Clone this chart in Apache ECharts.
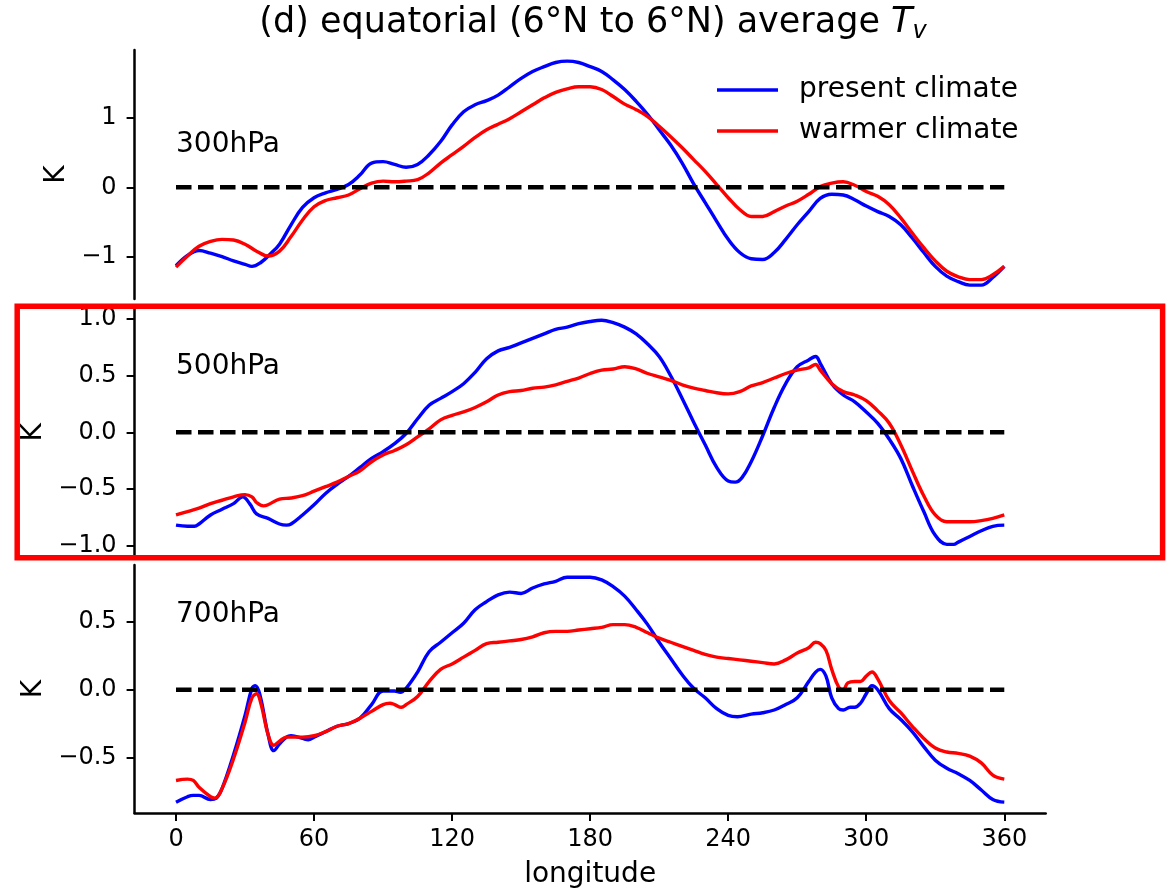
<!DOCTYPE html>
<html>
<head>
<meta charset="utf-8">
<title>equatorial average Tv</title>
<script src="https://cdn.jsdelivr.net/npm/echarts@6/dist/echarts.min.js"></script>
<style>
  html, body { margin: 0; padding: 0; background: #fff; }
  #chartMain { width: 1174px; height: 890px; }
</style>
</head>
<body>
<div id="chartMain"></div>
<script>
// longitude, anomaly (K)
const present300 = [[0,-1.13],[5,-0.98],[10,-0.91],[15,-0.95],[20,-1.00],[25,-1.06],[30,-1.11],[33,-1.14],[37,-1.08],[41,-0.96],[45,-0.82],[50,-0.54],[55,-0.29],[60,-0.15],[65,-0.08],[70,-0.03],[75,0.04],[80,0.18],[85,0.35],[90,0.37],[95,0.33],[100,0.29],[105,0.33],[110,0.47],[115,0.66],[120,0.90],[125,1.09],[130,1.19],[135,1.25],[140,1.33],[145,1.45],[150,1.57],[155,1.67],[160,1.74],[165,1.80],[170,1.82],[175,1.80],[180,1.74],[185,1.67],[190,1.55],[195,1.41],[200,1.24],[205,1.05],[210,0.83],[215,0.61],[220,0.35],[225,0.05],[230,-0.22],[235,-0.49],[240,-0.75],[245,-0.94],[250,-1.03],[255,-1.04],[260,-0.94],[265,-0.75],[270,-0.54],[275,-0.35],[280,-0.16],[285,-0.10],[290,-0.11],[295,-0.18],[300,-0.27],[305,-0.35],[310,-0.42],[315,-0.54],[320,-0.73],[325,-0.94],[330,-1.14],[335,-1.28],[340,-1.36],[345,-1.41],[350,-1.41],[355,-1.30],[360,-1.14]];
const warmer300 = [[0,-1.15],[5,-0.99],[10,-0.85],[15,-0.78],[20,-0.75],[25,-0.76],[30,-0.82],[35,-0.92],[40,-0.99],[45,-0.92],[50,-0.71],[55,-0.47],[60,-0.28],[65,-0.19],[70,-0.15],[75,-0.11],[80,-0.02],[85,0.06],[90,0.09],[95,0.08],[100,0.09],[105,0.11],[110,0.21],[115,0.35],[120,0.47],[125,0.59],[130,0.72],[135,0.83],[140,0.91],[145,0.99],[150,1.09],[155,1.19],[160,1.29],[165,1.37],[170,1.42],[175,1.45],[180,1.45],[185,1.41],[190,1.31],[195,1.20],[200,1.12],[205,1.02],[210,0.88],[215,0.73],[220,0.57],[225,0.40],[230,0.23],[235,0.04],[240,-0.15],[245,-0.32],[250,-0.42],[255,-0.42],[260,-0.35],[265,-0.27],[270,-0.20],[275,-0.10],[280,0.01],[285,0.06],[290,0.08],[295,0.03],[300,-0.06],[305,-0.13],[310,-0.25],[315,-0.44],[320,-0.66],[325,-0.87],[330,-1.06],[335,-1.21],[340,-1.29],[345,-1.33],[350,-1.33],[355,-1.26],[360,-1.14]];

const present500 = [[0,-0.82],[5,-0.83],[8,-0.83],[10,-0.81],[15,-0.73],[20,-0.68],[25,-0.63],[29,-0.57],[32,-0.63],[35,-0.72],[40,-0.76],[45,-0.81],[48,-0.82],[50,-0.81],[55,-0.73],[60,-0.64],[65,-0.54],[70,-0.46],[75,-0.39],[80,-0.31],[85,-0.23],[90,-0.17],[95,-0.10],[100,-0.01],[105,0.12],[110,0.24],[115,0.30],[120,0.36],[125,0.43],[130,0.53],[135,0.65],[140,0.72],[145,0.75],[150,0.79],[155,0.83],[160,0.87],[165,0.91],[170,0.93],[175,0.96],[180,0.98],[185,0.99],[190,0.97],[195,0.93],[200,0.87],[205,0.78],[210,0.67],[215,0.50],[220,0.30],[225,0.09],[230,-0.11],[235,-0.31],[240,-0.43],[243,-0.44],[246,-0.40],[250,-0.26],[255,-0.03],[260,0.22],[265,0.43],[270,0.58],[275,0.64],[278,0.67],[280,0.61],[285,0.43],[290,0.33],[295,0.27],[300,0.18],[305,0.08],[310,-0.06],[315,-0.23],[320,-0.47],[325,-0.70],[330,-0.91],[335,-0.99],[338,-0.99],[340,-0.97],[345,-0.92],[350,-0.87],[355,-0.83],[360,-0.82]];
const warmer500 = [[0,-0.73],[5,-0.70],[10,-0.67],[15,-0.63],[20,-0.60],[25,-0.57],[30,-0.55],[33,-0.57],[35,-0.62],[38,-0.65],[40,-0.64],[45,-0.59],[50,-0.58],[55,-0.56],[60,-0.52],[65,-0.48],[70,-0.44],[75,-0.39],[80,-0.34],[85,-0.26],[90,-0.20],[95,-0.16],[100,-0.11],[105,-0.04],[110,0.03],[115,0.11],[120,0.15],[125,0.18],[130,0.22],[135,0.27],[140,0.33],[145,0.36],[150,0.37],[155,0.39],[160,0.40],[165,0.42],[170,0.45],[175,0.48],[180,0.52],[185,0.55],[190,0.56],[195,0.58],[200,0.56],[205,0.52],[210,0.49],[215,0.46],[220,0.42],[225,0.39],[230,0.37],[235,0.35],[240,0.34],[245,0.36],[250,0.41],[255,0.44],[260,0.48],[265,0.52],[270,0.55],[275,0.57],[278,0.60],[280,0.55],[285,0.43],[290,0.36],[295,0.33],[300,0.28],[305,0.19],[310,0.08],[315,-0.11],[320,-0.34],[325,-0.56],[330,-0.73],[335,-0.79],[340,-0.79],[345,-0.79],[350,-0.78],[355,-0.76],[360,-0.73]];

const present700 = [[0,-0.83],[5,-0.79],[7.5,-0.78],[10,-0.78],[15,-0.81],[17.5,-0.80],[20,-0.73],[25,-0.48],[30,-0.19],[33,0.01],[34.5,0.03],[36.5,-0.04],[40,-0.33],[42.5,-0.45],[45,-0.40],[48,-0.35],[50,-0.34],[55,-0.36],[57.5,-0.37],[60,-0.35],[65,-0.31],[70,-0.27],[75,-0.25],[80,-0.21],[85,-0.11],[90,-0.01],[95,-0.01],[97.5,-0.02],[100,0.01],[105,0.13],[110,0.28],[115,0.35],[120,0.42],[125,0.49],[130,0.59],[135,0.65],[140,0.70],[145,0.72],[150,0.71],[155,0.75],[160,0.78],[165,0.80],[170,0.83],[175,0.83],[180,0.83],[185,0.81],[190,0.76],[195,0.69],[200,0.59],[205,0.48],[210,0.35],[215,0.23],[220,0.11],[225,0.01],[230,-0.06],[235,-0.14],[240,-0.19],[244,-0.20],[250,-0.18],[255,-0.17],[260,-0.15],[265,-0.11],[270,-0.06],[275,0.06],[278,0.13],[280,0.15],[282.5,0.10],[285,-0.06],[288,-0.14],[290,-0.15],[293,-0.13],[295,-0.13],[297.5,-0.10],[300,-0.03],[302.5,0.03],[305,0.00],[310,-0.14],[315,-0.22],[320,-0.31],[325,-0.42],[330,-0.52],[335,-0.58],[340,-0.62],[345,-0.67],[350,-0.74],[355,-0.81],[360,-0.83]];
const warmer700 = [[0,-0.67],[5,-0.66],[7.5,-0.67],[10,-0.72],[15,-0.79],[17,-0.80],[20,-0.73],[25,-0.51],[30,-0.24],[33,-0.06],[35,-0.03],[37,-0.11],[40,-0.33],[42.5,-0.41],[45,-0.38],[48,-0.35],[50,-0.35],[55,-0.35],[60,-0.34],[65,-0.31],[70,-0.27],[75,-0.25],[80,-0.21],[85,-0.16],[90,-0.11],[93,-0.10],[95,-0.11],[98,-0.13],[100,-0.11],[105,-0.05],[110,0.06],[115,0.15],[120,0.19],[125,0.24],[130,0.29],[135,0.34],[140,0.35],[145,0.36],[150,0.37],[155,0.39],[160,0.42],[165,0.43],[170,0.43],[175,0.44],[180,0.45],[185,0.46],[190,0.48],[195,0.48],[200,0.46],[205,0.42],[210,0.38],[215,0.35],[220,0.32],[225,0.29],[230,0.26],[235,0.24],[240,0.23],[245,0.22],[250,0.21],[255,0.20],[260,0.19],[265,0.22],[270,0.27],[275,0.31],[278,0.35],[280,0.34],[282.5,0.29],[285,0.15],[288,0.02],[290,0.00],[292,0.05],[295,0.06],[297.5,0.06],[300,0.10],[302.5,0.13],[305,0.08],[310,-0.08],[315,-0.17],[320,-0.27],[325,-0.36],[330,-0.43],[335,-0.46],[340,-0.47],[345,-0.49],[350,-0.54],[355,-0.63],[360,-0.66]];

const zeroLine = [[0,0],[360,0]];
const levels = ['300hPa', '500hPa', '700hPa'];
const lonTicks = [0, 60, 120, 180, 240, 300, 360];
const ticks300 = [-1, 0, 1];
const ticks500 = [-1.0, -0.5, 0.0, 0.5, 1.0];
const ticks700 = [-0.5, 0.0, 0.5];

const FONT = 'DejaVu Sans';
const gridLeft = 134.6, gridWidth = 911.1;

const minus = (s) => s.replace('-', '\u2212');

function yAxisFor(idx, min, max, ticks, digits, gap) {
    return {
        type: 'value', gridIndex: idx, min: min, max: max,
        name: 'K', nameLocation: 'middle', nameGap: gap, nameRotate: 90,
        nameTextStyle: { fontFamily: FONT, fontSize: 28, color: '#000' },
        axisLine: { show: true, onZero: false, lineStyle: { color: '#000', width: 2.5 } },
        axisTick: { show: true, length: 8, customValues: ticks, lineStyle: { color: '#000', width: 2 } },
        axisLabel: {
            customValues: ticks, margin: 18, color: '#000',
            fontFamily: FONT, fontSize: 24,
            formatter: (v) => minus(Number(v).toFixed(digits))
        },
        splitLine: { show: false }
    };
}

function xAxisFor(idx, shown) {
    return {
        type: 'value', gridIndex: idx, min: -18, max: 378, show: shown,
        name: shown ? 'longitude' : '', nameLocation: 'middle', nameGap: 48,
        nameTextStyle: { fontFamily: FONT, fontSize: 28, color: '#000' },
        axisLine: { show: true, onZero: false, lineStyle: { color: '#000', width: 2.5 } },
        axisTick: { show: true, length: 8, customValues: lonTicks, lineStyle: { color: '#000', width: 2 } },
        axisLabel: { customValues: lonTicks, margin: 15, color: '#000', fontFamily: FONT, fontSize: 24 },
        splitLine: { show: false }
    };
}

function curve(name, data, color, idx) {
    return {
        name: name, type: 'line', data: data, xAxisIndex: idx, yAxisIndex: idx,
        smooth: 0.4, showSymbol: false, symbol: 'none',
        lineStyle: { color: color, width: 3.4 }, itemStyle: { color: color },
        z: 3
    };
}

function dashed(idx) {
    return {
        name: 'zero' + idx, type: 'line', data: zeroLine, xAxisIndex: idx, yAxisIndex: idx,
        showSymbol: false, symbol: 'none', silent: true,
        lineStyle: { color: '#000', width: 4.5, type: [15.5, 6.5], cap: 'butt' },
        z: 4
    };
}

const chartInit = () => {
    var chartDom = document.getElementById('chartMain');
    var myChart = echarts.init(chartDom, null, { renderer: 'canvas' });
    var option;

    option = {
        animation: false,
        backgroundColor: '#fff',
        textStyle: { fontFamily: FONT },
        legend: {
            data: ['present climate', 'warmer climate'],
            orient: 'vertical', left: 717, top: 76, padding: 0,
            itemWidth: 61, itemHeight: 3.5, itemGap: 13, icon: 'rect',
            textStyle: { fontFamily: FONT, fontSize: 28, color: '#000', lineHeight: 28, padding: [0, 0, 0, 16] }
        },
        grid: [
            { left: gridLeft, width: gridWidth, top: 50, height: 249 },
            { left: gridLeft, width: gridWidth, top: 309, height: 246.7 },
            { left: gridLeft, width: gridWidth, top: 565, height: 248.3 }
        ],
        xAxis: [xAxisFor(0, false), xAxisFor(1, false), xAxisFor(2, true)],
        yAxis: [
            yAxisFor(0, -1.61, 1.98, ticks300, 0, 62),
            yAxisFor(1, -1.09, 1.09, ticks500, 1, 80),
            yAxisFor(2, -0.91, 0.92, ticks700, 1, 80)
        ],
        series: [
            curve('present climate', present300, '#0000ff', 0),
            curve('warmer climate', warmer300, '#ff0000', 0),
            dashed(0),
            curve('present climate', present500, '#0000ff', 1),
            curve('warmer climate', warmer500, '#ff0000', 1),
            dashed(1),
            curve('present climate', present700, '#0000ff', 2),
            curve('warmer climate', warmer700, '#ff0000', 2),
            dashed(2)
        ],
        graphic: [
            {
                type: 'text', x: 593, y: 23, z: 10,
                style: {
                    text: '(d) equatorial (6°N to 6°N) average {t|T}{v|v}',
                    fontFamily: FONT, fontSize: 35, fill: '#000', lineHeight: 41,
                    align: 'center', verticalAlign: 'middle',
                    rich: {
                        t: { fontFamily: FONT, fontSize: 35, fontStyle: 'italic', lineHeight: 41 },
                        v: { fontFamily: FONT, fontSize: 24, fontStyle: 'italic', lineHeight: 24, verticalAlign: 'bottom' }
                    }
                }
            },
            { type: 'text', x: 176, y: 145, z: 10, style: { text: levels[0], fontFamily: FONT, fontSize: 28, fill: '#000', verticalAlign: 'middle' } },
            { type: 'text', x: 176, y: 367, z: 10, style: { text: levels[1], fontFamily: FONT, fontSize: 28, fill: '#000', verticalAlign: 'middle' } },
            { type: 'text', x: 176, y: 614.5, z: 10, style: { text: levels[2], fontFamily: FONT, fontSize: 28, fill: '#000', verticalAlign: 'middle' } },
            {
                type: 'rect', z: 100,
                shape: { x: 17.2, y: 306.3, width: 1145.4, height: 251.5 },
                style: { fill: 'none', stroke: '#ff0000', lineWidth: 5.5 }
            }
        ]
    };

    option && myChart.setOption(option);
};

chartInit();
</script>
</body>
</html>
